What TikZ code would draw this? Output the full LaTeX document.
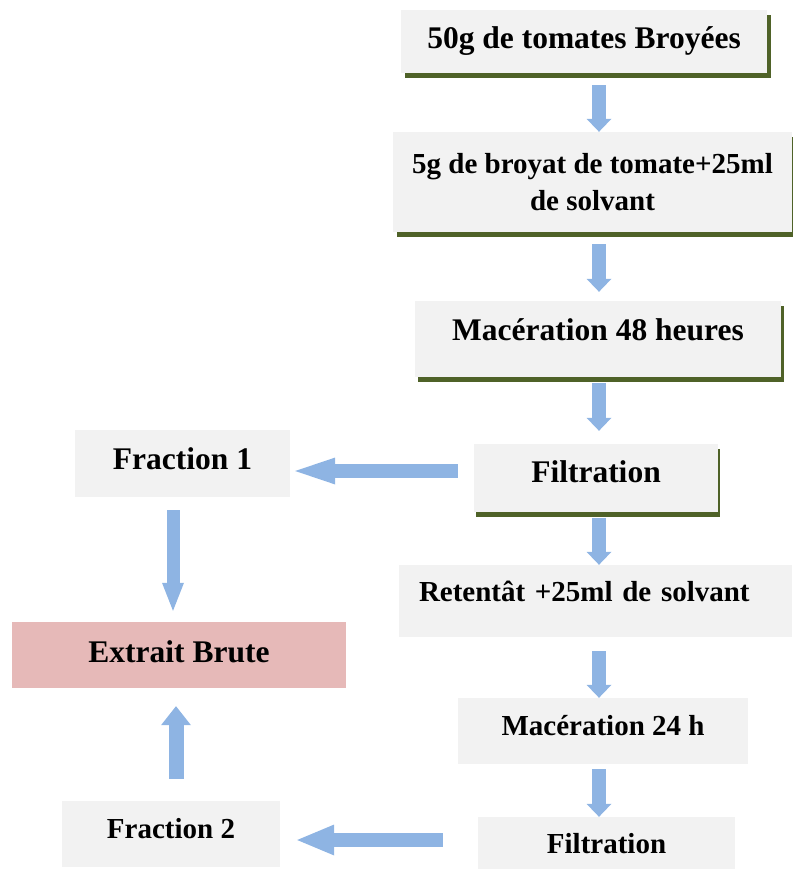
\documentclass[tikz,border=0pt]{standalone}
\usepackage{fontspec}
\setmainfont{Liberation Serif}
\usetikzlibrary{calc,shadows,arrows.meta}

\definecolor{boxgrey}{HTML}{F2F2F2}
\definecolor{shadowgreen}{HTML}{4F6228}
\definecolor{flowblue}{HTML}{8EB4E3}
\definecolor{brutepink}{HTML}{E6B9B8}

\begin{document}
\begin{tikzpicture}
        [x=1pt,y=-1pt,
        stage/.style={fill=boxgrey,inner sep=0pt},
        bigtxt/.style={font=\fontsize{31.5}{36}\selectfont\bfseries,text height=21pt},
        smalltxt/.style={font=\fontsize{29}{34}\selectfont\bfseries,text height=19pt},
        greenshadow/.style={drop shadow={shadow xshift=#1,shadow yshift=-5pt,opacity=1,fill=shadowgreen}},
        flow/.style 2 args={draw=flowblue,line width=14pt,-{Triangle[length=#1,width=#2,line width=0pt]}}]
        \useasboundingbox (0,0) rectangle (792,869);
        %% main column
        \node[stage,bigtxt,greenshadow=4pt,minimum width=366pt,minimum height=63pt] (b1) at (584,41.5) {50g de tomates Broyées};
        \node[stage,greenshadow=4pt,minimum width=399pt,minimum height=100pt,
          font=\fontsize{29}{37}\selectfont\bfseries,align=center] (b2) at (592.5,182) {5g de broyat de tomate+25ml\\de solvant};
        \node[stage,bigtxt,text depth=18pt,greenshadow=3pt,minimum width=366pt,minimum height=76pt] (b3) at (598,339) {Macération 48 heures};
        \node[stage,bigtxt,text depth=12pt,greenshadow=2pt,minimum width=244pt,minimum height=68pt] (b4) at (596,478) {Filtration};
        \node[stage,smalltxt,text depth=18pt,minimum width=393pt,minimum height=72pt,
          inner xsep=20pt,text width=353pt,align=left] (r1) at (595.5,601) {Retentât +25ml de solvant};
        \node[stage,smalltxt,text depth=10pt,minimum width=290pt,minimum height=66pt] (m2) at (603,731) {Macération 24 h};
        \node[stage,smalltxt,text depth=6pt,minimum width=257pt,minimum height=60pt] (f2b) at (606.5,847) {Filtration};
        %% left column
        \node[stage,bigtxt,text depth=9pt,minimum width=215pt,minimum height=67pt] (f1) at (182.5,463.5) {Fraction 1};
        \node[stage,bigtxt,text depth=6pt,fill=brutepink,minimum width=334pt,minimum height=66pt] (ex) at (179,655) {Extrait Brute};
        \node[stage,smalltxt,text depth=10pt,minimum width=218pt,minimum height=66pt] (fr2) at (171,834) {Fraction 2};
        %%
        \coordinate (ax) at (599,0);
        \coordinate (lx) at (173,0);
        \coordinate (ux) at (176,0);
        \foreach \startNode/\endNode/\gapA/\gapB in {b1/b2/12/0,b2/b3/12/9,b3/b4/6/13,b4/r1/6/0,r1/m2/14/0,m2/f2b/5/0}
        {
          \draw[flow={13pt}{25pt}] ($(\startNode.south -| ax)+(0,\gapA)$) -- ($(\endNode.north -| ax)+(0,-\gapB)$);
        }
        \draw[flow={40pt}{27pt}] ($(b4.west)+(-16,-7)$) -- ($(f1.east)+(5,7.5)$);
        \draw[flow={37pt}{31pt}] ($(f2b.west)+(-35,-7)$) -- ($(fr2.east)+(17,6)$);
        \draw[flow={28pt}{22pt},line width=13pt] ($(f1.south -| lx)+(0,13)$) -- ($(ex.north -| lx)+(0,-11)$);
        \draw[flow={19pt}{30pt},line width=15pt] ($(fr2.north -| ux)+(0,-22)$) -- ($(ex.south -| ux)+(0,18)$);
	\end{tikzpicture}
\end{document}
